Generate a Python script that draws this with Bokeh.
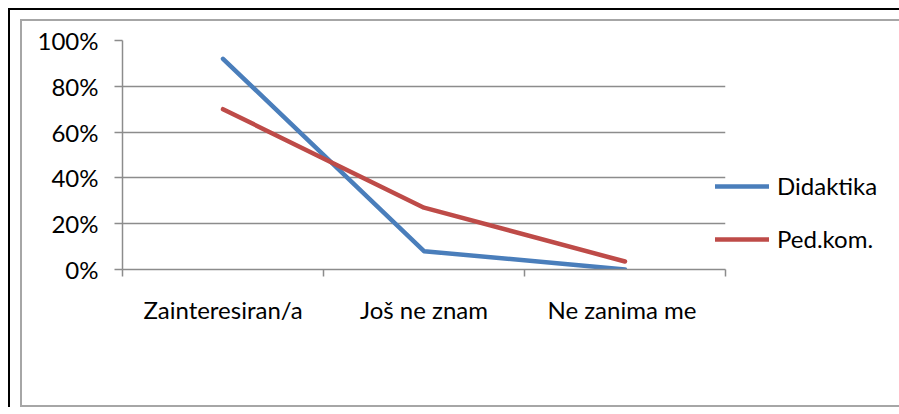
from bokeh.plotting import figure
from bokeh.models import (Range1d, FixedTicker, NumeralTickFormatter, Legend, LegendItem, Spacer)
from bokeh.layouts import column, row
from bokeh.embed import file_html
from bokeh.resources import INLINE

categories = ["Zainteresiran/a", "Još ne znam", "Ne zanima  me"]
didaktika = [0.92, 0.08, 0.0]
pedkom = [0.70, 0.27, 0.035]
y_ticks = [0.0, 0.2, 0.4, 0.6, 0.8, 1.0]

FONT = "Lato"
FS = "24px"
GRID = "#8c8c8c"

xs = [i + 0.5 for i in range(len(categories))]

p = figure(frame_width=601, frame_height=225, output_backend="svg", toolbar_location=None,
           x_range=Range1d(0, len(categories)), y_range=Range1d(0, 1),
           min_border_left=100, min_border_right=164, min_border_top=19, min_border_bottom=140)
p.outline_line_color = None
p.background_fill_color = "white"
p.border_fill_color = "white"

p.xaxis.ticker = FixedTicker(ticks=xs, minor_ticks=list(range(len(categories) + 1)))
p.xaxis.major_label_overrides = {x: c for x, c in zip(xs, categories)}
p.xaxis.major_tick_out = 0
p.xaxis.major_tick_in = 0
p.xaxis.minor_tick_out = 7
p.xaxis.minor_tick_in = 0
p.xaxis.minor_tick_line_color = GRID
p.xaxis.axis_line_color = GRID
p.xaxis.axis_line_width = 1.5
p.xaxis.minor_tick_line_width = 1.5
p.xaxis.major_label_standoff = 18
p.xaxis.major_label_text_font = FONT
p.xaxis.major_label_text_font_size = FS
p.xaxis.major_label_text_color = "black"

p.yaxis.ticker = FixedTicker(ticks=y_ticks)
p.yaxis.formatter = NumeralTickFormatter(format="0%")
p.yaxis.major_tick_out = 8
p.yaxis.major_tick_in = 0
p.yaxis.minor_tick_out = 0
p.yaxis.minor_tick_in = 0
p.yaxis.major_tick_line_color = GRID
p.yaxis.major_tick_line_width = 1.5
p.yaxis.axis_line_color = GRID
p.yaxis.axis_line_width = 1.5
p.yaxis.major_label_standoff = 16
p.yaxis.major_label_text_font = FONT
p.yaxis.major_label_text_font_size = FS
p.yaxis.major_label_text_color = "black"

p.xgrid.grid_line_color = None
p.ygrid.ticker = FixedTicker(ticks=y_ticks)
p.ygrid.grid_line_color = GRID
p.ygrid.grid_line_width = 1.5

r1 = p.line(xs, didaktika, line_color="#4a7ebb", line_width=4.5, line_cap="round", line_join="round")
r2 = p.line(xs, pedkom, line_color="#be4b48", line_width=4.5, line_cap="round", line_join="round")

legend = Legend(items=[LegendItem(label="Didaktika", renderers=[r1]),
                       LegendItem(label="Ped.kom.", renderers=[r2])],
                location=(-10, 16), orientation="vertical")
legend.background_fill_alpha = 0
legend.border_line_color = None
legend.padding = 0
legend.margin = 0
legend.glyph_width = 54
legend.glyph_height = 26
legend.label_height = 26
legend.spacing = 24
legend.label_standoff = 8
legend.label_text_font = FONT
legend.label_text_font_size = FS
legend.label_text_color = "black"
p.add_layout(legend, "right")

p.styles = {"border-top": "2px solid #a6a6a6", "border-left": "2px solid #a6a6a6",
            "border-bottom": "2px solid #a6a6a6"}

framed = column(Spacer(width=10, height=9), row(Spacer(width=10, height=10), p),
                styles={"border-top": "2px solid black", "border-left": "2px solid black"})

layout = column(Spacer(width=8, height=8), row(Spacer(width=8, height=8), framed))

open("out.html", "w").write(file_html(layout, INLINE))
